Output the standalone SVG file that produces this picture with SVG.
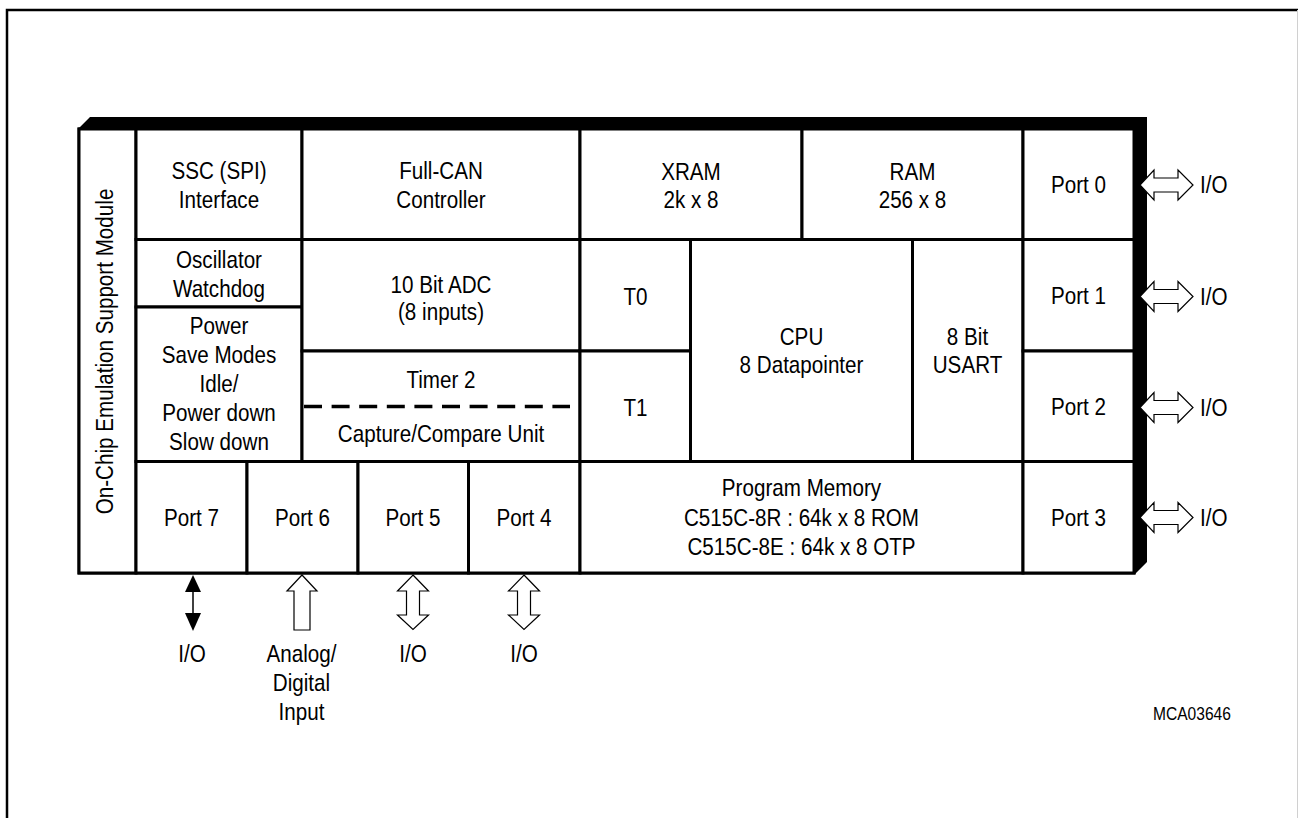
<svg xmlns="http://www.w3.org/2000/svg" width="1298" height="818" viewBox="0 0 1298 818">
<style>
.t{font-family:"Liberation Sans",Arial,sans-serif;font-size:24px;text-anchor:middle;fill:#000}
.s{font-family:"Liberation Sans",Arial,sans-serif;font-size:19px;fill:#000}
.c{fill:#fff;stroke:#000;stroke-width:3}
.ha{fill:#fff;stroke:#000;stroke-width:1.2;stroke-linejoin:miter}
.fa{fill:#000;stroke:none}
</style>
<rect width="1298" height="818" fill="#fff"/>
<path d="M7,818 V10 H1298" fill="none" stroke="#000" stroke-width="2.5"/>
<line x1="1297.5" y1="10" x2="1297.5" y2="818" stroke="#d0d0d0" stroke-width="1"/>

<g id="chip">
<polygon points="78,129 90,117 1147,117 1147,562 1135,574 1135,129" fill="#000"/>
<rect x="79" y="129" width="1055" height="444" fill="#fff" stroke="#000" stroke-width="3"/>
</g>

<g id="emulation">
<rect class="c" x="79" y="129" width="57" height="444"/>
<text class="t" transform="matrix(0 -0.86 1 0 113 351.5)" x="0" y="0">On-Chip Emulation Support Module</text>
</g>
<g id="ssc">
<rect class="c" x="136" y="129" width="166" height="110.5"/>
<text class="t" transform="matrix(.86 0 0 1 219 0)"><tspan x="0" y="179">SSC (SPI)</tspan><tspan x="0" y="208">Interface</tspan></text>
</g>
<g id="can">
<rect class="c" x="302" y="129" width="278" height="110.5"/>
<text class="t" transform="matrix(.86 0 0 1 441 0)"><tspan x="0" y="179">Full-CAN</tspan><tspan x="0" y="208">Controller</tspan></text>
</g>
<g id="xram">
<rect class="c" x="580" y="129" width="222" height="110.5"/>
<text class="t" transform="matrix(.86 0 0 1 691 0)"><tspan x="0" y="180">XRAM</tspan><tspan x="0" y="208">2k x 8</tspan></text>
</g>
<g id="ram">
<rect class="c" x="802" y="129" width="221" height="110.5"/>
<text class="t" transform="matrix(.86 0 0 1 912.5 0)"><tspan x="0" y="180">RAM</tspan><tspan x="0" y="208">256 x 8</tspan></text>
</g>
<g id="port0">
<rect class="c" x="1023" y="129" width="111" height="110.5"/>
<text class="t" transform="matrix(.86 0 0 1 1078.5 0)" x="0" y="193">Port 0</text>
</g>
<g id="osc">
<rect class="c" x="136" y="239.5" width="166" height="67.5"/>
<text class="t" transform="matrix(.86 0 0 1 219 0)"><tspan x="0" y="268">Oscillator</tspan><tspan x="0" y="297">Watchdog</tspan></text>
</g>
<g id="power">
<rect class="c" x="136" y="307" width="166" height="154.5"/>
<text class="t" transform="matrix(.86 0 0 1 219 0)"><tspan x="0" y="334">Power</tspan><tspan x="0" y="363">Save Modes</tspan><tspan x="0" y="392">Idle/</tspan><tspan x="0" y="421.5">Power down</tspan><tspan x="0" y="450.5">Slow down</tspan></text>
</g>
<g id="adc">
<rect class="c" x="302" y="239.5" width="278" height="111.5"/>
<text class="t" transform="matrix(.86 0 0 1 441 0)"><tspan x="0" y="293">10 Bit ADC</tspan><tspan x="0" y="320.5">(8 inputs)</tspan></text>
</g>
<g id="timer2">
<rect class="c" x="302" y="351" width="278" height="110.5"/>
<line x1="304" y1="406.5" x2="570" y2="406.5" stroke="#000" stroke-width="3.5" stroke-dasharray="18 9.6"/>
<text class="t" transform="matrix(.86 0 0 1 441 0)"><tspan x="0" y="388">Timer 2</tspan><tspan x="0" y="442">Capture/Compare Unit</tspan></text>
</g>
<g id="t0">
<rect class="c" x="580" y="239.5" width="110.5" height="111.5"/>
<text class="t" transform="matrix(.86 0 0 1 635.5 0)" x="0" y="305">T0</text>
</g>
<g id="t1">
<rect class="c" x="580" y="351" width="110.5" height="110.5"/>
<text class="t" transform="matrix(.86 0 0 1 635.5 0)" x="0" y="416">T1</text>
</g>
<g id="cpu">
<rect class="c" x="690.5" y="239.5" width="222" height="222"/>
<text class="t" transform="matrix(.86 0 0 1 801.5 0)"><tspan x="0" y="345">CPU</tspan><tspan x="0" y="373">8 Datapointer</tspan></text>
</g>
<g id="usart">
<rect class="c" x="912.5" y="239.5" width="110.5" height="222"/>
<text class="t" transform="matrix(.86 0 0 1 967.5 0)"><tspan x="0" y="345">8 Bit</tspan><tspan x="0" y="373">USART</tspan></text>
</g>
<g id="port1">
<rect class="c" x="1023" y="239.5" width="111" height="111.5"/>
<text class="t" transform="matrix(.86 0 0 1 1078.5 0)" x="0" y="304.5">Port 1</text>
</g>
<g id="port2">
<rect class="c" x="1023" y="351" width="111" height="110.5"/>
<text class="t" transform="matrix(.86 0 0 1 1078.5 0)" x="0" y="415.5">Port 2</text>
</g>
<g id="port7">
<rect class="c" x="136" y="461.5" width="111" height="111.5"/>
<text class="t" transform="matrix(.86 0 0 1 191.5 0)" x="0" y="526.5">Port 7</text>
</g>
<g id="port6">
<rect class="c" x="247" y="461.5" width="111" height="111.5"/>
<text class="t" transform="matrix(.86 0 0 1 302.5 0)" x="0" y="526.5">Port 6</text>
</g>
<g id="port5">
<rect class="c" x="358" y="461.5" width="110.5" height="111.5"/>
<text class="t" transform="matrix(.86 0 0 1 413 0)" x="0" y="526.5">Port 5</text>
</g>
<g id="port4">
<rect class="c" x="468.5" y="461.5" width="111.5" height="111.5"/>
<text class="t" transform="matrix(.86 0 0 1 524 0)" x="0" y="526.5">Port 4</text>
</g>
<g id="progmem">
<rect class="c" x="580" y="461.5" width="443" height="111.5"/>
<text class="t" transform="matrix(.86 0 0 1 801.5 0)"><tspan x="0" y="496">Program Memory</tspan><tspan x="0" y="526">C515C-8R : 64k x 8 ROM</tspan><tspan x="0" y="555">C515C-8E : 64k x 8 OTP</tspan></text>
</g>
<g id="port3">
<rect class="c" x="1023" y="461.5" width="111" height="111.5"/>
<text class="t" transform="matrix(.86 0 0 1 1078.5 0)" x="0" y="526.5">Port 3</text>
</g>

<g id="connectors">
<path class="ha" d="M1140,185 L1154,170 L1154,178 L1178,178 L1178,170 L1193,185 L1178,200 L1178,192 L1154,192 L1154,200 Z"/>
<path class="ha" d="M1140,296.5 L1154,281.5 L1154,289.5 L1178,289.5 L1178,281.5 L1193,296.5 L1178,311.5 L1178,303.5 L1154,303.5 L1154,311.5 Z"/>
<path class="ha" d="M1140,407.5 L1154,392.5 L1154,400.5 L1178,400.5 L1178,392.5 L1193,407.5 L1178,422.5 L1178,414.5 L1154,414.5 L1154,422.5 Z"/>
<path class="ha" d="M1140,517.5 L1154,502.5 L1154,510.5 L1178,510.5 L1178,502.5 L1193,517.5 L1178,532.5 L1178,524.5 L1154,524.5 L1154,532.5 Z"/>
<line x1="193" y1="590" x2="193" y2="615" stroke="#000" stroke-width="1.5"/>
<polygon class="fa" points="193,575 185,592 201,592"/>
<polygon class="fa" points="193,631 185,613 201,613"/>
<path class="ha" d="M302,575 L317,591 L310,591 L310,630 L294,630 L294,591 L287,591 Z"/>
<path class="ha" d="M413,575 L428.5,591 L419.5,591 L419.5,615 L428.5,615 L413,629.5 L397.5,615 L406.5,615 L406.5,591 L397.5,591 Z"/>
<path class="ha" d="M524,575 L539.5,591 L530.5,591 L530.5,615 L539.5,615 L524,629.5 L508.5,615 L517.5,615 L517.5,591 L508.5,591 Z"/>
</g>

<g id="labels">
<text class="t" transform="matrix(.86 0 0 1 1200 0)" x="0" y="193.5" style="text-anchor:start">I/O</text>
<text class="t" transform="matrix(.86 0 0 1 1200 0)" x="0" y="305" style="text-anchor:start">I/O</text>
<text class="t" transform="matrix(.86 0 0 1 1200 0)" x="0" y="416" style="text-anchor:start">I/O</text>
<text class="t" transform="matrix(.86 0 0 1 1200 0)" x="0" y="526" style="text-anchor:start">I/O</text>
<text class="t" transform="matrix(.86 0 0 1 192 0)" x="0" y="662">I/O</text>
<text class="t" transform="matrix(.86 0 0 1 301.5 0)"><tspan x="0" y="662">Analog/</tspan><tspan x="0" y="691.5">Digital</tspan><tspan x="0" y="720.5">Input</tspan></text>
<text class="t" transform="matrix(.86 0 0 1 413 0)" x="0" y="662">I/O</text>
<text class="t" transform="matrix(.86 0 0 1 524 0)" x="0" y="662">I/O</text>
<text class="s" transform="matrix(.82 0 0 1 1153 0)" x="0" y="720.5">MCA03646</text>
</g>
</svg>
